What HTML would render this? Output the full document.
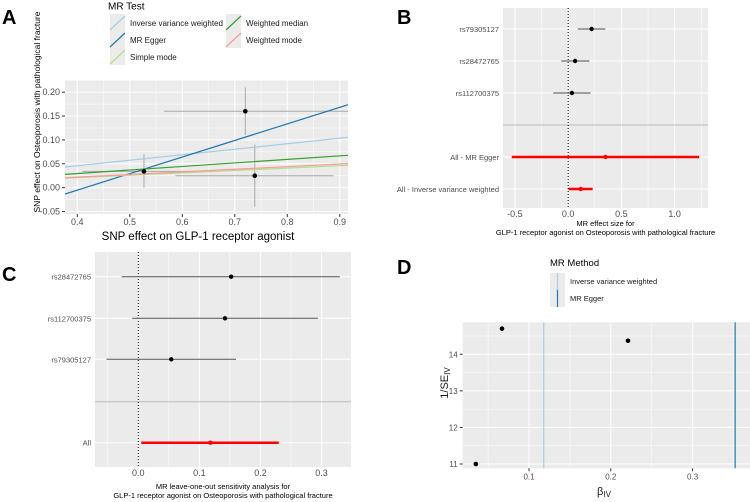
<!DOCTYPE html>
<html><head><meta charset="utf-8"><style>
body{margin:0;background:#fff}
svg{display:block;font-family:"Liberation Sans",Arial,sans-serif}
</style></head><body>
<svg id="s" width="750" height="502" viewBox="0 0 750 502"></svg>
<script>
// Panel A data
const aPtsX=[0.72,0.527,0.738];
const aPtsY=[0.16,0.034,0.025];
const aXlo=[0.565,0.41,0.587];
const aXhi=[0.95,0.64,0.888];
const aYlo=[0.11,0.0,-0.04];
const aYhi=[0.21,0.07,0.09];
const aMethods=["Inverse variance weighted","MR Egger","Simple mode","Weighted median","Weighted mode"];
const aSlopes=[0.115,0.347,0.05,0.074,0.055];
const aIntercepts=[0,-0.144,0.001,0.0,0.0];
const aXTicks=[0.4,0.5,0.6,0.7,0.8,0.9];
const aYTicks=[-0.05,0,0.05,0.1,0.15,0.2];
// Panel B data
const bLabels=["rs79305127","rs28472765","rs112700375","All - MR Egger","All - Inverse variance weighted"];
const bEst=[0.22,0.065,0.035,0.35,0.118];
const bLo=[0.09,-0.065,-0.14,-0.53,0.003];
const bHi=[0.35,0.2,0.21,1.23,0.23];
const bXTicks=[-0.5,0,0.5,1.0];
// Panel C data
const cLabels=["rs28472765","rs112700375","rs79305127","All"];
const cEst=[0.152,0.142,0.054,0.118];
const cLo=[-0.027,-0.01,-0.052,0.005];
const cHi=[0.33,0.294,0.16,0.23];
const cXTicks=[0,0.1,0.2,0.3];
// Panel D data
const dX=[0.035,0.067,0.221];
const dY=[11.0,14.7,14.37];
const dLines=[0.118,0.352];
const dXTicks=[0.1,0.2,0.3];
const dYTicks=[11,12,13,14];

const S=document.getElementById('s');const NS='http://www.w3.org/2000/svg';
function el(t,a,p){const e=document.createElementNS(NS,t);for(const k in a)e.setAttribute(k,a[k]);(p||S).appendChild(e);return e;}
function tx(x,y,s,o,p){o=o||{};const e=el('text',Object.assign({x:x,y:y,'font-size':o.fs||8,fill:o.fill||'#4d4d4d','text-anchor':o.a||'middle'},o.extra||{}),p);e.textContent=s;return e;}
const colors=['#a6cee3','#1f78b4','#b2df8a','#33a02c','#fb9a99'];

// ===== Panel A =====
(function(){
const X0=65,X1=348,Y0=80,Y1=214,xmin=0.3766,xmax=0.9156,ymin=-0.0552,ymax=0.2255;
const sx=v=>X0+(v-xmin)/(xmax-xmin)*(X1-X0), sy=v=>Y1-(v-ymin)/(ymax-ymin)*(Y1-Y0);
const g=el('g',{});  
el('rect',{x:X0,y:Y0,width:X1-X0,height:Y1-Y0,fill:'#ebebeb'},g);
const cp=el('clipPath',{id:'ca'},g);el('rect',{x:X0,y:Y0,width:X1-X0,height:Y1-Y0},cp);
aXTicks.forEach(t=>{el('line',{x1:sx(t+0.05),x2:sx(t+0.05),y1:Y0,y2:Y1,stroke:'#fff','stroke-width':0.5},g);el('line',{x1:sx(t),x2:sx(t),y1:Y0,y2:Y1,stroke:'#fff','stroke-width':1},g);
 el('line',{x1:sx(t),x2:sx(t),y1:Y1,y2:Y1+3,stroke:'#333'},g);tx(sx(t),Y1+11,t.toFixed(1),{fs:9},g);});
aYTicks.forEach(t=>{el('line',{x1:X0,x2:X1,y1:sy(t+0.025),y2:sy(t+0.025),stroke:'#fff','stroke-width':0.5},g);el('line',{x1:X0,x2:X1,y1:sy(t),y2:sy(t),stroke:'#fff','stroke-width':1},g);
 el('line',{x1:X0-3,x2:X0,y1:sy(t),y2:sy(t),stroke:'#333'},g);tx(X0-5,sy(t)+3,t.toFixed(2),{fs:9,a:'end'},g);});
const c=el('g',{'clip-path':'url(#ca)'},g);
aPtsX.forEach((x,i)=>{
 const h=el('line',{x1:sx(aXlo[i]),x2:sx(aXhi[i]),y1:sy(aPtsY[i]),y2:sy(aPtsY[i]),stroke:'#aaa','stroke-width':1},c);
 const v=el('line',{x1:sx(x),x2:sx(x),y1:sy(aYlo[i]),y2:sy(aYhi[i]),stroke:'#aaa','stroke-width':1},c);
});
aSlopes.forEach((b,i)=>{const l=el('line',{x1:sx(xmin),x2:sx(xmax),y1:sy(aIntercepts[i]+b*xmin),y2:sy(aIntercepts[i]+b*xmax),stroke:colors[i],'stroke-width':1.2},c);
 });
aPtsX.forEach((x,i)=>{const p=el('circle',{cx:sx(x),cy:sy(aPtsY[i]),r:2.3,fill:'#000'},c);});
tx(198,240,'SNP effect on GLP-1 receptor agonist',{fs:11.5,fill:'#000'},g);
const yt=tx(0,0,'SNP effect on Osteoporosis with pathological fracture',{fs:8.5,fill:'#000',extra:{transform:'translate(40,112) rotate(-90)'}},g);

// legend
const lg=el('g',{},g);
tx(108,9.5,'MR Test',{fs:10,fill:'#000',a:'start'},lg);
const pos=[[110,23],[110,40],[110,57],[226,23],[226,40]];
aMethods.forEach((m,i)=>{const[x,y]=pos[i];el('rect',{x:x,y:y-9,width:15,height:17,fill:'#ebebeb'},lg);
 el('line',{x1:x,y1:y+7,x2:x+15,y2:y-7,stroke:colors[i],'stroke-width':1.2},lg);tx(x+20,y+3,m,{fs:8,fill:'#1a1a1a',a:'start'},lg);});
tx(2,24,'A',{fs:20,fill:'#000',a:'start',extra:{'font-weight':'bold'}});
})();

// ===== forest helper =====
function forest(name,X0,X1,Y0,Y1,xmin,xmax,ticks,minor,labels,rowY,sepY,est,lo,hi,nRed,t1,t2,ty){
 const sx=v=>X0+(v-xmin)/(xmax-xmin)*(X1-X0);
 const g=el('g',{});
 el('rect',{x:X0,y:Y0,width:X1-X0,height:Y1-Y0,fill:'#ebebeb'},g);
 minor.forEach(t=>el('line',{x1:sx(t),x2:sx(t),y1:Y0,y2:Y1,stroke:'#fff','stroke-width':0.5},g));
 ticks.forEach(t=>{el('line',{x1:sx(t),x2:sx(t),y1:Y0,y2:Y1,stroke:'#fff','stroke-width':1},g);tx(sx(t),Y1+9,t.toFixed(1),{fs:9},g);});
 rowY.forEach((y,i)=>{el('line',{x1:X0,x2:X1,y1:y,y2:y,stroke:'#fff','stroke-width':1},g);tx(X0-4,y+3,labels[i],{fs:7.5,a:'end'},g);});
 el('line',{x1:X0,x2:X1,y1:sepY,y2:sepY,stroke:'#bbb','stroke-width':1},g);
 el('line',{x1:sx(0),x2:sx(0),y1:Y0,y2:Y1,stroke:'#000','stroke-width':1,'stroke-dasharray':'1,2'},g);
 est.forEach((e,i)=>{const red=i>=est.length-nRed;
  const l=el('line',{x1:sx(lo[i]),x2:sx(hi[i]),y1:rowY[i],y2:rowY[i],stroke:red?'#ff0000':'#555','stroke-width':red?2.5:1},g);
  
  const p=el('circle',{cx:sx(e),cy:rowY[i],r:2.2,fill:red?'#ff0000':'#000'},g);
  });
 const cx=(X0+X1)/2;tx(cx,ty,t1,{fs:7.5,fill:'#000'},g);tx(cx,ty+9,t2,{fs:7.5,fill:'#000'},g);
}
forest('panel-b-forest',503,708,8,208,-0.612,1.313,bXTicks,[-0.25,0.25,0.75,1.25],bLabels,[29,61,93,157,189],125,bEst,bLo,bHi,2,
 'MR effect size for','GLP-1 receptor agonist on Osteoporosis with pathological fracture',226);
tx(397,24,'B',{fs:20,fill:'#000',a:'start',extra:{'font-weight':'bold'}});
forest('panel-c-forest',95,351,252,467,-0.0708,0.3482,cXTicks,[-0.05,0.05,0.15,0.25],cLabels,[276.7,318.3,359.3,442.7],401.7,cEst,cLo,cHi,1,
 'MR leave-one-out sensitivity analysis for','GLP-1 receptor agonist on Osteoporosis with pathological fracture',489);
tx(2,281,'C',{fs:20,fill:'#000',a:'start',extra:{'font-weight':'bold'}});

// ===== Panel D =====
(function(){
const X0=462.7,X1=750,Y0=322.3,Y1=468.3;const xmin=0.1-(529-X0)/818,xmax=0.1+(X1-529)/818;
const ymin=11-(Y1-464)/36.6,ymax=14+(354.3-Y0)/36.6;
const sx=v=>X0+(v-xmin)/(xmax-xmin)*(X1-X0), sy=v=>Y1-(v-ymin)/(ymax-ymin)*(Y1-Y0);
const g=el('g',{});
el('rect',{x:X0,y:Y0,width:X1-X0,height:Y1-Y0,fill:'#ebebeb'},g);
[0.05,0.15,0.25,0.35].forEach(t=>el('line',{x1:sx(t),x2:sx(t),y1:Y0,y2:Y1,stroke:'#fff','stroke-width':0.5},g));
[11.5,12.5,13.5,14.5].forEach(t=>el('line',{x1:X0,x2:X1,y1:sy(t),y2:sy(t),stroke:'#fff','stroke-width':0.5},g));
dXTicks.forEach(t=>{el('line',{x1:sx(t),x2:sx(t),y1:Y0,y2:Y1,stroke:'#fff'},g);el('line',{x1:sx(t),x2:sx(t),y1:Y1,y2:Y1+3,stroke:'#333'},g);tx(sx(t),Y1+11,t.toFixed(1),{fs:8},g);});
dYTicks.forEach(t=>{el('line',{x1:X0,x2:X1,y1:sy(t),y2:sy(t),stroke:'#fff'},g);el('line',{x1:X0-3,x2:X0,y1:sy(t),y2:sy(t),stroke:'#333'},g);tx(X0-5,sy(t)+3,String(t),{fs:8,a:'end'},g);});
dLines.forEach((v,i)=>{const l=el('line',{x1:sx(v),x2:sx(v),y1:Y0,y2:Y1,stroke:i?'#1f78b4':'#a6cee3','stroke-width':1.2},g);});
dX.forEach((x,i)=>{const p=el('circle',{cx:sx(x),cy:sy(dY[i]),r:2.3,fill:'#000'},g);});
const xt=el('text',{x:604,y:495,'font-size':11,fill:'#1a1a1a','text-anchor':'middle'},g);xt.innerHTML='β<tspan font-size="8" dy="2">IV</tspan>';
const yt=el('text',{'font-size':11,fill:'#1a1a1a','text-anchor':'middle',transform:'translate(448,383) rotate(-90)'},g);yt.innerHTML='1/SE<tspan font-size="8" dy="2">IV</tspan>';
const lg=el('g',{},g);
tx(550,266,'MR Method',{fs:9.5,fill:'#000',a:'start'},lg);
[['Inverse variance weighted','#a6cee3',281],['MR Egger','#1f78b4',298]].forEach(([n,c,y])=>{el('rect',{x:550,y:y-8,width:15,height:17,fill:'#ebebeb'},lg);
 el('line',{x1:557.5,x2:557.5,y1:y-8,y2:y+9,stroke:c,'stroke-width':1.2},lg);tx(570,y+3,n,{fs:7.5,fill:'#1a1a1a',a:'start'},lg);});
tx(397,274,'D',{fs:20,fill:'#000',a:'start',extra:{'font-weight':'bold'}});
})();
</script>
</body></html>
